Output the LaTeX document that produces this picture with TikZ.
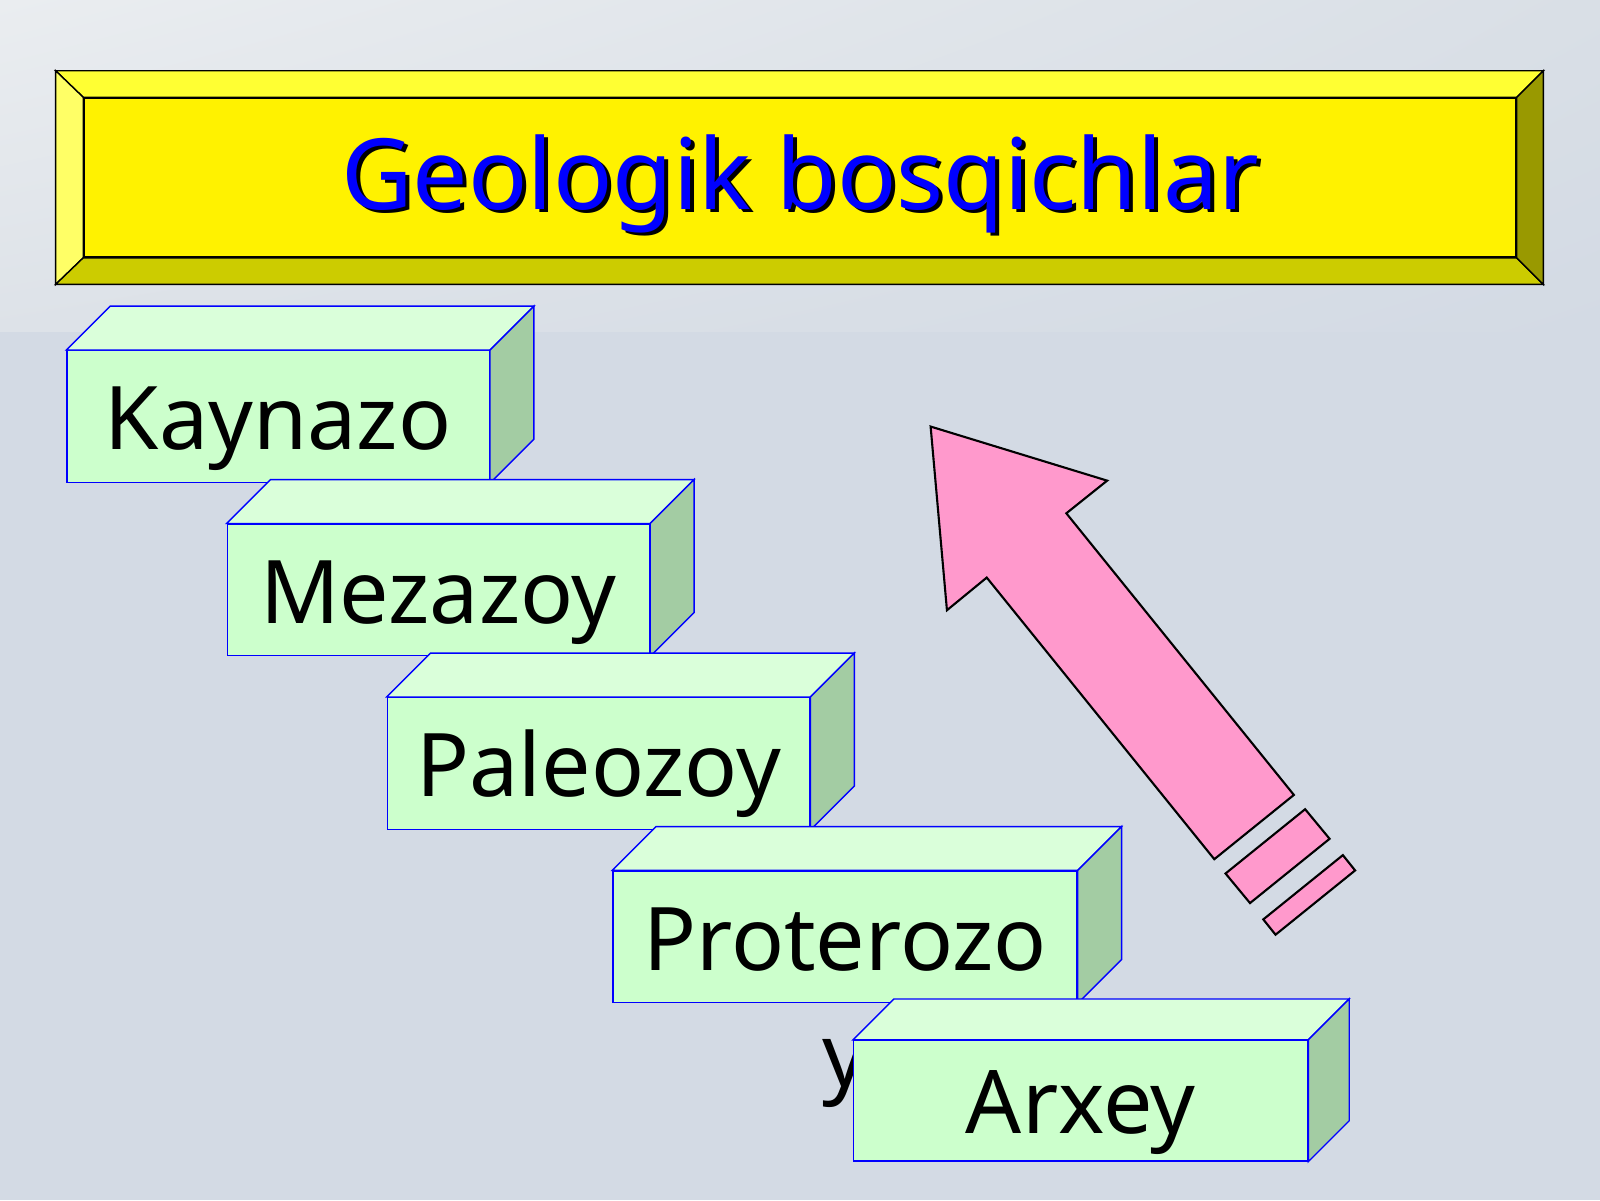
\documentclass[tikz,border=0pt]{standalone}
\usepackage{fontspec}
\setmainfont{Noto Sans}
\usepackage{tikz}
\usetikzlibrary{positioning,shadings}
\usepackage{xcolor}
\definecolor{slidebg}{HTML}{D3DAE4}
\definecolor{slidetop}{HTML}{EAEDF0}
\definecolor{slidetopr}{HTML}{D9DFE6}
\definecolor{slidemid}{HTML}{DDE2E8}
\definecolor{bevtop}{HTML}{FFFF33}
\definecolor{bevleft}{HTML}{FFFF66}
\definecolor{bevbottom}{HTML}{CCCC00}
\definecolor{bevright}{HTML}{999900}
\definecolor{frontgreen}{HTML}{CCFFCC}
\definecolor{topgreen}{HTML}{DAFFDA}
\definecolor{sidegreen}{HTML}{A3CCA3}
\definecolor{arrowpink}{HTML}{FF99CC}
\def\pxu{0.290334pt}
% top and side face of a block, #2 = depth
\newcommand{\blockfaces}[2]{%
  \draw[blue, fill=topgreen] (#1.north west) -- ++(#2,-#2) -- ([shift={(#2,-#2)}]#1.north east) -- (#1.north east) -- cycle;
  \draw[blue, fill=sidegreen] (#1.north east) -- ++(#2,-#2) -- ([shift={(#2,-#2)}]#1.south east) -- (#1.south east) -- cycle;
}
\tikzset{
  blockface/.style={draw=blue, fill=frontgreen, inner sep=0pt, anchor=north west,
    minimum height={129*\pxu}, text height=18.9pt, text depth=0pt, font=\fontsize{25}{33}\selectfont},
  titletext/.style={font=\fontsize{28}{34}\selectfont, anchor=base, inner sep=0pt},
  pinkpart/.style={draw=black, fill=arrowpink, line width=0.6pt, line join=miter}
}
\begin{document}
\begin{tikzpicture}[x=0.0102041cm, y=-0.0102041cm]
\useasboundingbox (0,0) rectangle (1568,1176);
% background
\fill[slidebg] (0,0) rectangle (1568,1176);
\shade[upper left=slidetop, upper right=slidetopr, lower left=slidemid, lower right=slidebg] (0,0) rectangle (1568,325);

% title
\node[draw=black, fill=yellow, inner sep=0pt, minimum width={1404*\pxu}, minimum height={156*\pxu}] (title) at (784,174) {};
\draw[fill=bevtop] ([shift={(-27,-26)}]title.north west) -- ([shift={(26,-26)}]title.north east) -- (title.north east) -- (title.north west) -- cycle;
\draw[fill=bevleft] ([shift={(-27,-26)}]title.north west) -- ([shift={(-27,26)}]title.south west) -- (title.south west) -- (title.north west) -- cycle;
\draw[fill=bevbottom] ([shift={(-27,26)}]title.south west) -- ([shift={(26,26)}]title.south east) -- (title.south east) -- (title.south west) -- cycle;
\draw[fill=bevright] ([shift={(26,-26)}]title.north east) -- ([shift={(26,26)}]title.south east) -- (title.south east) -- (title.north east) -- cycle;
\node[titletext, black] (ttlshadow) at (788,208) {Geologik bosqichlar};
\node[titletext, blue] (ttl) at (784,205) {Geologik bosqichlar};

% blocks
\node[blockface, minimum width={414*\pxu}] (kay) at (65,343) {Kaynazo};
\blockfaces{kay}{43}
\node[blockface, minimum width={414*\pxu}] (mez) at (222,513) {Mezazoy};
\blockfaces{mez}{43}
\node[blockface, minimum width={414*\pxu}] (pal) at (379,683) {Paleozoy};
\blockfaces{pal}{43}
\node[blockface, minimum width={455*\pxu}] (pro) at (600,853) {Proterozo};
\blockfaces{pro}{43}
\node[font=\fontsize{25}{33}\selectfont, anchor=base, inner sep=0pt] (proy) at ([yshift=-33pt]pro.base) {y};
\node[blockface, minimum width={445*\pxu}, minimum height={118*\pxu}] (arx) at (836,1019) {Arxey};
\blockfaces{arx}{40}

% arrow
\draw[pinkpart] (912,418) -- (1085,471) -- (1045,503) -- (1268,779) -- (1190,842) -- (967,566) -- (928,598) -- cycle;
\draw[pinkpart] (1201,856) -- (1279,793) -- (1303,822) -- (1225,885) -- cycle;
\draw[pinkpart] (1238,901) -- (1316,838) -- (1328,853) -- (1250,916) -- cycle;
\end{tikzpicture}
\end{document}
